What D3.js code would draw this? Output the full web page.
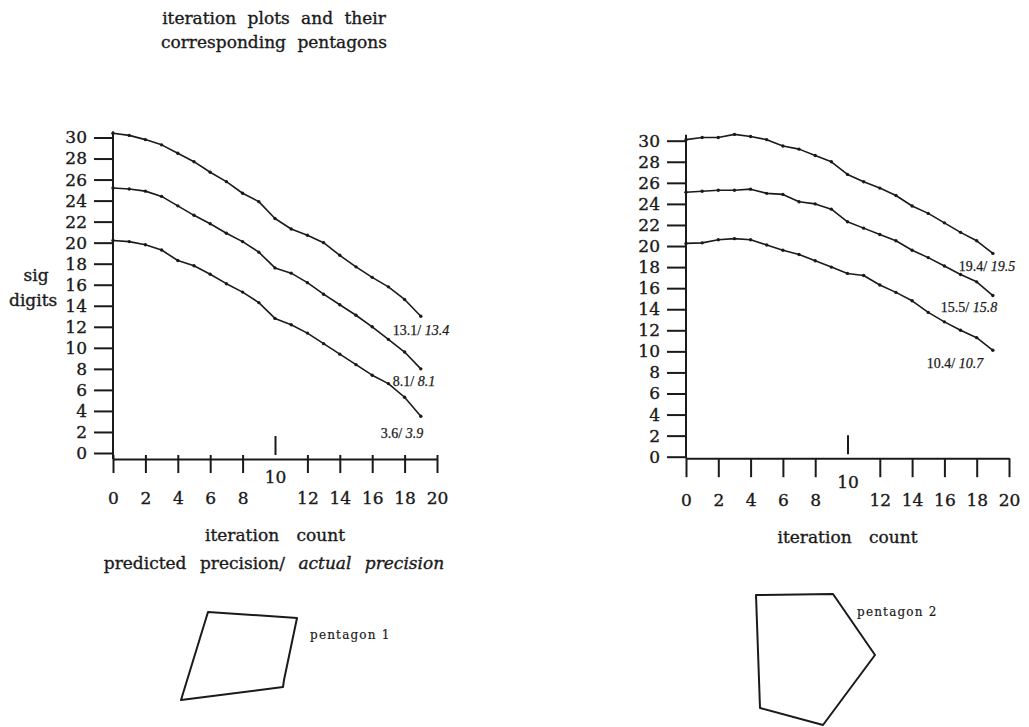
<!DOCTYPE html>
<html>
<head>
<meta charset="utf-8">
<script src="https://cdn.jsdelivr.net/npm/d3@7"></script>
<style>
  body { margin: 0; background: #fff; }
  svg { display: block; }
</style>
</head>
<body>
<div id="chart"></div>
<script>
// iteration counts (x values)
var iterations = [0, 1, 2, 3, 4, 5, 6, 7, 8, 9, 10, 11, 12, 13, 14, 15, 16, 17, 18, 19];
var xTicks = [0, 2, 4, 6, 8, 10, 12, 14, 16, 18, 20];
var yTicks = [0, 2, 4, 6, 8, 10, 12, 14, 16, 18, 20, 22, 24, 26, 28, 30];

// plot 1 : sig digits per iteration
var left30 = [30.4, 30.2, 29.8, 29.3, 28.5, 27.7, 26.7, 25.8, 24.7, 23.9, 22.3, 21.3, 20.7, 20.0, 18.8, 17.7, 16.7, 15.8, 14.6, 13.0];
var left25 = [25.2, 25.1, 24.9, 24.4, 23.5, 22.6, 21.8, 20.9, 20.1, 19.1, 17.6, 17.1, 16.2, 15.1, 14.1, 13.1, 12.0, 10.8, 9.6, 8.0];
var left20 = [20.2, 20.1, 19.8, 19.3, 18.3, 17.8, 17.0, 16.1, 15.3, 14.3, 12.8, 12.2, 11.4, 10.4, 9.4, 8.4, 7.4, 6.6, 5.3, 3.5];
var leftPredicted = ["13.1", "8.1", "3.6"];
var leftActual = ["13.4", "8.1", "3.9"];

// plot 2
var right30 = [30.1, 30.3, 30.3, 30.6, 30.4, 30.1, 29.5, 29.2, 28.6, 28.0, 26.8, 26.1, 25.5, 24.8, 23.8, 23.1, 22.2, 21.3, 20.5, 19.3];
var right25 = [25.1, 25.2, 25.3, 25.3, 25.4, 25.0, 24.9, 24.2, 24.0, 23.5, 22.3, 21.7, 21.1, 20.5, 19.6, 18.9, 18.1, 17.3, 16.6, 15.3];
var right20 = [20.25, 20.3, 20.6, 20.7, 20.6, 20.1, 19.6, 19.2, 18.6, 18.0, 17.4, 17.2, 16.3, 15.6, 14.8, 13.7, 12.8, 12.0, 11.3, 10.1];
var rightPredicted = ["19.4", "15.5", "10.4"];
var rightActual = ["19.5", "15.8", "10.7"];

// pentagon vertices (shape units)
var pentagon1 = [[28, 18], [117, 24], [104, 86], [103, 93], [1, 106]];
var pentagon2 = [[6, 5], [83, 4], [125, 65], [73, 135], [10, 118]];

var serif = "'DejaVu Serif', serif";
var ink = "#1a1a1a";

var svg = d3.select("#chart")
    .append("svg")
    .attr("width", 1029)
    .attr("height", 727);

svg.append("rect").attr("width", 1029).attr("height", 727).attr("fill", "#fff");

// heavier print look for the text
function inked(sel, w) {
    return sel.attr("fill", ink).attr("stroke", ink).attr("stroke-width", w || 0.35);
}

// title
inked(svg.append("text")
    .attr("x", 274).attr("y", 24)
    .attr("text-anchor", "middle")
    .attr("font-family", serif).attr("font-size", 17)
    .attr("word-spacing", 6)
    .text("iteration plots and their"));
inked(svg.append("text")
    .attr("x", 274).attr("y", 48)
    .attr("text-anchor", "middle")
    .attr("font-family", serif).attr("font-size", 17)
    .attr("word-spacing", 6)
    .text("corresponding pentagons"));

function drawPlot(cfg) {
    var x = d3.scaleLinear().domain([0, 20]).range(cfg.xRange);
    var y = d3.scaleLinear().domain([0, 30]).range(cfg.yRange);
    var g = svg.append("g");
    var axisY = y(0) + cfg.axisDrop;

    // y axis
    var yAxis = d3.axisLeft(y).tickValues(yTicks).tickSize(19).tickSizeOuter(0).tickPadding(7);
    var yg = g.append("g")
        .attr("transform", `translate(${x(0)},0)`)
        .call(yAxis);
    yg.select(".domain").remove();
    yg.selectAll("line").attr("stroke", ink).attr("stroke-width", 2);
    inked(yg.selectAll("text").attr("font-family", serif).attr("font-size", 17));

    g.append("line")
        .attr("x1", x(0)).attr("x2", x(0))
        .attr("y1", y(30) - 6).attr("y2", axisY)
        .attr("stroke", ink).attr("stroke-width", 2);

    // x axis
    var xAxis = d3.axisBottom(x).tickValues(xTicks).tickSize(cfg.tickLen).tickSizeOuter(0).tickPadding(0);
    var xg = g.append("g")
        .attr("transform", `translate(0,${axisY})`)
        .call(xAxis);
    xg.select(".domain").attr("stroke", ink).attr("stroke-width", 2);
    xg.selectAll("line").attr("stroke", ink).attr("stroke-width", 2)
        .attr("y1", -cfg.tickUp);
    inked(xg.selectAll("text")
        .attr("font-family", serif).attr("font-size", 17)
        .attr("dy", null)
        .attr("y", cfg.labelY));
    // the 10 tick points up, its label sits higher
    var ten = xg.selectAll(".tick").filter(d => d === 10);
    ten.select("line").attr("y1", -4).attr("y2", -23);
    ten.select("text").attr("y", cfg.tenY);

    // series lines
    var line = d3.line()
        .x((d, i) => x(iterations[i]))
        .y(d => y(d));
    cfg.series.forEach(function(s) {
        g.append("path")
            .datum(s)
            .attr("d", line)
            .attr("fill", "none")
            .attr("stroke", ink)
            .attr("stroke-width", 1.6)
            .attr("stroke-linejoin", "round");
        g.selectAll(null)
            .data(s)
            .enter()
            .append("circle")
            .attr("cx", (d, i) => x(iterations[i]))
            .attr("cy", d => y(d))
            .attr("r", 1.7)
            .attr("fill", ink);
    });

    // end labels
    cfg.series.forEach(function(s, k) {
        var last = s.length - 1;
        var t = inked(g.append("text")
            .attr("x", x(iterations[last]) + cfg.labelOffsets[k][0])
            .attr("y", y(s[last]) + cfg.labelOffsets[k][1])
            .attr("font-family", "'Liberation Serif', serif")
            .attr("font-size", 14), 0.25);
        t.append("tspan").text(cfg.predicted[k] + "/ ");
        t.append("tspan").attr("font-style", "italic").text(" " + cfg.actual[k]);
    });

    // x title
    inked(g.append("text")
        .attr("x", x(10)).attr("y", cfg.titleY)
        .attr("text-anchor", "middle")
        .attr("font-family", serif).attr("font-size", 17)
        .attr("word-spacing", 12)
        .text("iteration count"));
    return { x: x, y: y, axisY: axisY };
}

drawPlot({
    xRange: [113, 437],
    yRange: [453, 137.5],
    axisDrop: 6,
    tickLen: 14,
    tickUp: 4,
    labelY: 45,
    tenY: 24,
    titleY: 541,
    series: [left30, left25, left20],
    predicted: leftPredicted,
    actual: leftActual,
    labelOffsets: [[-28, 19], [-28, 17], [-40, 22]]
});

drawPlot({
    xRange: [686, 1009],
    yRange: [456.7, 140.7],
    axisDrop: 1.5,
    tickLen: 19,
    tickUp: 0,
    labelY: 48,
    tenY: 30,
    titleY: 543,
    series: [right30, right25, right20],
    predicted: rightPredicted,
    actual: rightActual,
    labelOffsets: [[-34, 18], [-52, 16], [-66, 18]]
});

// left-only subtitle and y label
var sub = inked(svg.append("text")
    .attr("x", 274).attr("y", 569)
    .attr("text-anchor", "middle")
    .attr("font-family", serif).attr("font-size", 17)
    .attr("word-spacing", 8));
sub.append("tspan").text("predicted precision/ ");
sub.append("tspan").attr("font-style", "italic").text("actual precision");

inked(svg.append("text")
    .attr("x", 36).attr("y", 281)
    .attr("text-anchor", "middle")
    .attr("font-family", serif).attr("font-size", 17)
    .text("sig"));
inked(svg.append("text")
    .attr("x", 9).attr("y", 306)
    .attr("font-family", serif).attr("font-size", 17)
    .text("digits"));

// pentagons
function drawPentagon(pts, ox, oy, label, lx, ly) {
    var px = d3.scaleLinear().domain([0, 1]).range([ox, ox + 1]);
    var py = d3.scaleLinear().domain([0, 1]).range([oy, oy + 1]);
    var shape = d3.line().x(d => px(d[0])).y(d => py(d[1])).curve(d3.curveLinearClosed);
    svg.append("path")
        .datum(pts)
        .attr("d", shape)
        .attr("fill", "none")
        .attr("stroke", ink)
        .attr("stroke-width", 2)
        .attr("stroke-linejoin", "round");
    inked(svg.append("text")
        .attr("x", lx).attr("y", ly)
        .attr("font-family", serif)
        .attr("font-size", 12)
        .attr("letter-spacing", 1.2)
        .text(label), 0.2);
}
drawPentagon(pentagon1, 180, 594, "pentagon 1", 310, 639);
drawPentagon(pentagon2, 750, 590, "pentagon 2", 857, 616);
</script>
</body>
</html>
